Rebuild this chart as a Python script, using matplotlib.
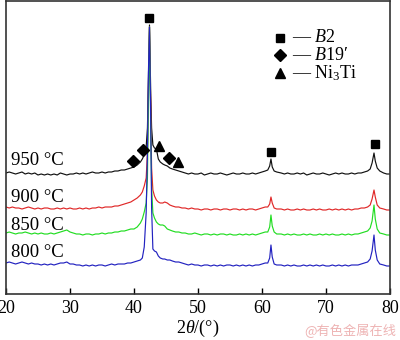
import matplotlib
matplotlib.use("Agg")
import matplotlib.pyplot as plt
import numpy as np

plt.rcParams['font.family'] = ['Liberation Serif', 'DejaVu Serif']
plt.rcParams['mathtext.fontset'] = 'custom'
plt.rcParams['mathtext.rm'] = 'Liberation Serif'
plt.rcParams['mathtext.it'] = 'Liberation Serif:italic'

# ---------------- data ----------------
two_theta = [
    20.0, 20.5, 21.0, 21.5, 22.0, 22.5, 23.0, 23.5, 24.0, 24.5,
    25.0, 25.5, 26.0, 26.5, 27.0, 27.5, 28.0, 28.5, 29.0, 29.5,
    30.0, 30.5, 31.0, 31.5, 32.0, 32.5, 33.0, 33.5, 34.0, 34.5,
    35.0, 35.5, 36.0, 36.5, 37.0, 37.5, 38.0,
    38.5, 39.0, 39.5, 40.0, 40.5, 41.0, 41.3, 41.6, 41.9, 42.1,
    42.25, 42.42, 42.6, 42.75, 42.95, 43.2, 43.5, 43.8, 44.1, 44.5,
    44.8, 45.2, 45.6, 46.0, 46.5, 47.0, 47.5,
    48.0, 48.5, 49.0, 49.5, 50.0, 50.5, 51.0, 51.5, 52.0, 52.5,
    53.0, 53.5, 54.0, 54.5, 55.0, 55.5, 56.0, 56.5, 57.0, 57.5,
    58.0, 58.5, 59.0, 59.5, 60.0, 60.5,
    60.9, 61.2, 61.4, 61.6, 61.9, 62.3,
    63.0, 63.5, 64.0, 64.5, 65.0, 65.5, 66.0, 66.5, 67.0, 67.5,
    68.0, 68.5, 69.0, 69.5, 70.0, 70.5, 71.0, 71.5, 72.0, 72.5,
    73.0, 73.5, 74.0, 74.5, 75.0, 75.5, 76.0, 76.5,
    76.9, 77.2, 77.5, 77.7, 78.0, 78.4,
    79.0, 79.5, 80.0,
]

i_950 = [
    0, 1, 0, -1, 0, 1, -1, 0, -1, 0,
    -2, -1, -2, -1, -2, -1, -2, 0, -1, -2,
    -1, -1, 0, -1, 0, -1, 0, 1, 0, 0,
    1, 0, 1, 1, 2, 2, 3,
    3, 4, 5, 6, 8, 11, 14, 18, 26, 45,
    95, 148, 85, 45, 28, 25, 24, 14, 11, 9,
    8, 7, 5, 4, 3, 2, 1,
    0, -1, 0, -1, -1, 0, -2, -1, 0, -1,
    -1, 0, -1, -2, -1, 0, -1, -1, 0, -1,
    -1, 0, -1, 0, 1, 2,
    3, 7, 14, 6, 2, 1,
    0, -1, 0, -1, -1, 0, -1, 0, -2, -1,
    0, -1, -1, 0, -1, -2, -1, 0, -1, 0,
    -1, -1, 0, -1, 0, 0, 1, 2,
    4, 10, 20, 12, 5, 2,
    0, -1, -1,
]

i_900 = [
    1, 0, 1, 0, 0, -1, 0, 1, 0, -1,
    0, -1, 0, 0, -1, -1, 0, -1, 0, -1,
    0, -1, -1, 0, -1, 0, -1, 0, 0, 1,
    0, 1, 1, 1, 2, 2, 3,
    4, 5, 6, 8, 10, 13, 16, 22, 30, 55,
    120, 181, 100, 40, 18, 12, 8, 6, 5, 5,
    6, 5, 3, 2, 1, 1, 0,
    0, -1, 0, -1, -1, -2, -1, -1, -2, -1,
    -1, -2, -1, -1, -2, -1, -1, -2, -1, -2,
    -1, -1, -2, -1, 0, 1,
    1, 4, 11, 5, 0, -1,
    -1, -2, -1, -2, -2, -1, -2, -1, -2, -2,
    -1, -2, -1, -2, -2, -1, -2, -1, -2, -1,
    -2, -1, -2, -1, -1, 0, 0, 1,
    3, 9, 18, 11, 3, 0,
    -1, -2, -2,
]

i_850 = [
    0, 1, 0, -1, 0, 0, 1, 0, -1, 0,
    -1, 0, -1, -1, 0, -1, 0, 1, 2, 3,
    1, 0, -1, -1, -2, -1, -1, -2, -1, -1,
    0, -1, 0, 0, 1, 1, 2,
    2, 3, 4, 4, 6, 10, 14, 21, 30, 55,
    130, 206, 110, 45, 20, 15, 11, 9, 8, 8,
    7, 4, 3, 2, 1, 1, 0,
    0, -1, -1, 0, -1, -2, -1, -1, -2, -1,
    -2, -1, -1, -2, -1, -2, -2, -1, -2, -1,
    -2, -1, -2, -1, 0, 1,
    1, 6, 18, 7, 1, -1,
    -1, -2, -1, -2, -1, -2, -2, -1, -2, -1,
    -2, -2, -1, -2, -1, -2, -1, -2, -2, -1,
    -2, -1, -2, -1, -1, 0, 1, 2,
    5, 12, 28, 14, 4, 0,
    -1, -2, -2,
]

i_800 = [
    0, 1, 0, -1, 0, 1, 0, -1, 0, -1,
    -1, -2, -1, -2, -1, -2, -1, 0, 0, 1,
    -1, -1, -2, -2, -3, -2, -3, -2, -3, -2,
    -2, -3, -2, -1, -2, -1, -1,
    -1, 0, 0, 1, 2, 3, 5, 16, 50, 110,
    190, 236, 150, 55, 14, 12, 11, 7, 5, 4,
    4, 3, 3, 2, 1, 1, 0,
    -1, -2, -1, -2, -2, -3, -2, -2, -3, -2,
    -3, -2, -3, -2, -2, -3, -2, -3, -2, -3,
    -2, -3, -2, -2, -1, 0,
    0, 5, 18, 6, -1, -2,
    -2, -3, -2, -3, -2, -3, -3, -2, -3, -2,
    -3, -2, -3, -2, -3, -3, -2, -3, -2, -3,
    -2, -3, -2, -2, -2, -1, 0, 1,
    4, 12, 28, 13, 3, -1,
    -2, -3, -3,
]

series_labels = ['950 °C', '900 °C', '850 °C', '800 °C']
series_data = [i_950, i_900, i_850, i_800]
offsets = [121, 86, 61, 31]
colors = ['#111111', '#e02828', '#22dd22', '#2222c0']
label_y = [129, 92, 64, 37]

# phase markers (2theta, intensity)
b2_x = [42.42, 61.4, 77.6]
b2_y = [276, 142, 150]
b19_x = [39.8, 41.35, 45.5]
b19_y = [133, 144, 136]
ni3ti_x = [43.95, 46.9]
ni3ti_y = [148, 132]

xticks = [20, 30, 40, 50, 60, 70, 80]

# ---------------- plot ----------------
fig = plt.figure(figsize=(4.0, 3.4), dpi=100)
ax = fig.add_axes([6 / 400, 46 / 340, 384 / 400, 293 / 340])

x = np.array(two_theta)
for data, off, c in zip(series_data, offsets, colors):
    ax.plot(x, np.array(data) + off, color=c, lw=0.85, zorder=2)

for lab, ly in zip(series_labels, label_y):
    ax.text(20.8, ly, lab, fontsize=13.5, ha='left', va='baseline', color='black')

ax.plot(b2_x, b2_y, 's', color='black', ms=6, zorder=3)
ax.plot(b19_x, b19_y, 'D', color='black', ms=6, zorder=3)
ax.plot(ni3ti_x, ni3ti_y, '^', color='black', ms=7.5, zorder=3)

# legend
leg_marks = ['s', 'D', '^']
leg_sizes = [6, 6, 7.5]
leg_texts = [r'— $\mathit{B2}$', r'— $\mathit{B19}$′', r'— Ni$_3$Ti']
leg_y = [1 - 37 / 293, 1 - 54 / 293, 1 - 72 / 293]
for m, s, t, yy in zip(leg_marks, leg_sizes, leg_texts, leg_y):
    ax.plot([(280 - 6) / 384], [yy], m, color='black', ms=s, transform=ax.transAxes,
            clip_on=False)
    ax.text((292 - 6) / 384, yy, t, fontsize=13, ha='left', va='center',
            transform=ax.transAxes)

ax.set_xlim(20, 80)
ax.set_ylim(0, 293)
ax.set_xticks(xticks)
ax.set_yticks([])
ax.tick_params(axis='x', direction='in', length=4, width=1, labelsize=13, pad=4,
               colors='black')
for sp in ax.spines.values():
    sp.set_color('#333333')
    sp.set_linewidth(1.2)

ax.set_xlabel(r'$\mathit{2\theta}$/(°)', fontsize=13, labelpad=1)

fig.text(396 / 400, 1 - 331 / 340, '@有色金属在线', fontsize=9.5, color='#eeb4b4',
         ha='right', va='center', family=['Noto Sans CJK SC', 'DejaVu Sans'])

fig.savefig('out.png', dpi=100)
